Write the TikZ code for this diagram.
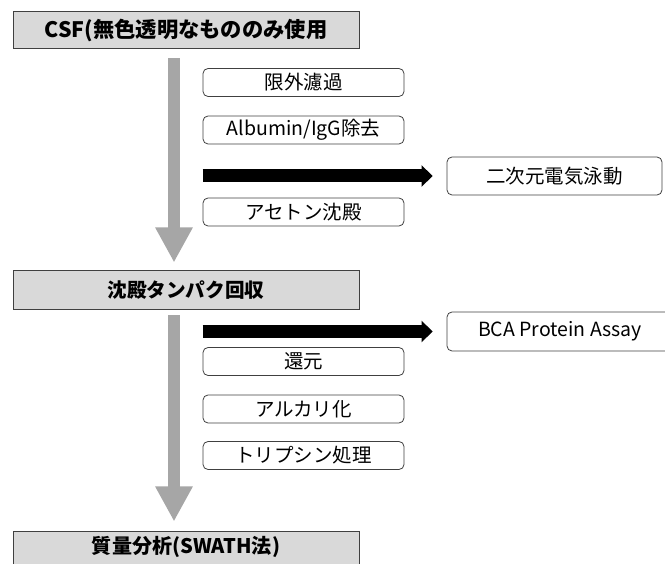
\documentclass[tikz,border=0pt]{standalone}
\usepackage{fontspec}
\setmainfont{Noto Sans CJK JP}
\usetikzlibrary{arrows.meta}
\begin{document}
\begin{tikzpicture}[x=1pt,y=-1pt,
  mainbox/.style={draw=black!75, line width=1pt, fill=black!15, inner sep=0pt,
    minimum width=346pt, font=\bfseries},
  stepbox/.style={draw=black!75, line width=0.8pt, rounded corners=5pt, fill=white,
    minimum width=201pt, minimum height=28pt, inner sep=0pt,
    font=\fontsize{19.5}{21}\selectfont},
  sidebox/.style={stepbox, minimum height=38pt},
  grayarrow/.style={draw=black!35, line width=12.5pt, -{Triangle[width=35pt,length=35pt]}},
  blackarrow/.style={draw=black, line width=13pt, -{Triangle[width=21pt,length=11pt]}}]
\useasboundingbox (0,0) rectangle (665,564);
% main boxes
\node[mainbox, minimum height=37pt, font=\bfseries\fontsize{21.3}{23}\selectfont] (top) at (186,30.5) {CSF(無色透明なもののみ使用};
\node[mainbox, minimum height=39pt, font=\bfseries\fontsize{19.6}{21}\selectfont] (mid) at (186,290) {沈殿タンパク回収};
\node[mainbox, minimum height=40pt, text depth=12pt, font=\bfseries\fontsize{20.1}{22}\selectfont] (bot) at (186,551) {質量分析(SWATH法)};
% step boxes
\node[stepbox] (gen) at (303.5,82.5) {限外濾過};
\node[stepbox] (alb) at (303.5,130) {Albumin/IgG除去};
\node[stepbox] (ace) at (303.5,212) {アセトン沈殿};
\node[stepbox] (kan) at (303.5,361.5) {還元};
\node[stepbox] (alk) at (303.5,409) {アルカリ化};
\node[stepbox] (try) at (303.5,455.5) {トリプシン処理};
% side boxes
\node[sidebox, minimum width=215pt] (niji) at (554.5,176) {二次元電気泳動};
\node[sidebox, minimum width=226pt, minimum height=39pt] (bca) at (560,331.5) {BCA Protein Assay};
% gray arrows
\draw[grayarrow, shorten <=9pt, shorten >=7.5pt] ([xshift=-12pt]top.south) -- ([xshift=-12pt]mid.north);
\draw[grayarrow, shorten <=5.5pt, shorten >=9pt] ([xshift=-12pt]mid.south) -- ([xshift=-12pt]bot.north);
% black arrows
\draw[blackarrow, shorten >=14pt] (gen.west |- niji.west) -- (niji.west);
\draw[blackarrow, shorten >=14pt] (gen.west |- bca.west) -- (bca.west);
\end{tikzpicture}
\end{document}
